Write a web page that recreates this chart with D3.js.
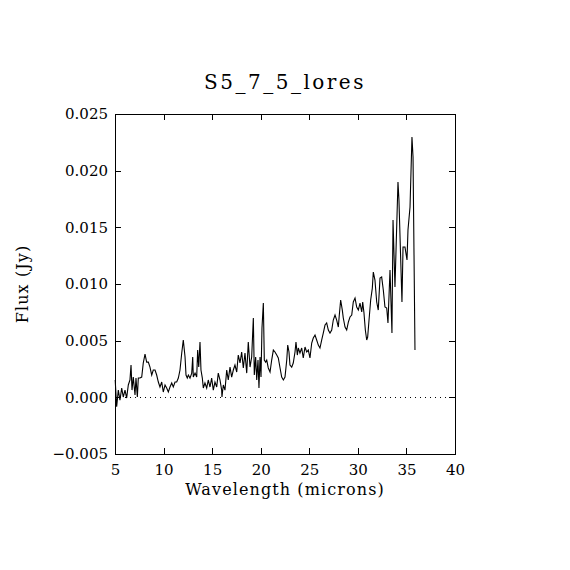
<!DOCTYPE html>
<html>
<head>
<meta charset="utf-8">
<script src="https://cdn.jsdelivr.net/npm/d3@7"></script>
<style>
  body { margin: 0; background: #fff; }
  text { font-family: "DejaVu Serif", serif; fill: #000; }
</style>
</head>
<body>
<script>
var width = 570,
  height = 570;

var title = "S5_7_5_lores";
var xLabel = "Wavelength (microns)";
var yLabel = "Flux (Jy)";
var xTicks = [5, 10, 15, 20, 25, 30, 35, 40];
var yTicks = [-0.005, 0, 0.005, 0.010, 0.015, 0.020, 0.025];

// wavelength (microns)
var wave = [5.02,5.17,5.34,5.51,5.69,5.85,6.03,6.20,6.37,6.54,6.65,6.75,6.88,7.06,7.16,7.30,7.40,7.57,7.75,7.91,
  8.09,8.26,8.43,8.60,8.78,8.94,9.12,9.29,9.46,9.63,9.81,9.97,10.15,10.32,10.49,10.66,10.84,11.00,11.18,11.35,
  11.52,11.69,11.87,12.03,12.21,12.31,12.44,12.55,12.72,12.90,13.00,13.06,13.24,13.41,13.51,13.62,13.75,13.85,13.99,14.09,
  14.26,14.44,14.60,14.78,14.95,15.12,15.29,15.47,15.63,15.81,15.98,16.01,16.15,16.32,16.50,16.66,16.84,17.01,17.18,17.35,
  17.53,17.69,17.87,18.04,18.21,18.38,18.56,18.72,18.90,19.07,19.24,19.34,19.48,19.59,19.72,19.82,19.93,20.03,20.13,20.27,
  20.37,20.51,20.62,20.78,20.96,21.13,21.30,21.47,21.65,21.81,21.99,22.16,22.33,22.50,22.68,22.78,22.91,23.01,23.19,23.35,
  23.53,23.63,23.77,23.87,24.04,24.22,24.38,24.56,24.73,24.90,25.07,25.25,25.41,25.59,25.76,25.93,26.10,26.28,26.44,26.62,
  26.79,26.96,27.13,27.31,27.47,27.65,27.82,27.99,28.09,28.23,28.40,28.50,28.68,28.85,29.02,29.19,29.37,29.53,29.71,29.88,
  30.05,30.22,30.40,30.50,30.63,30.77,30.91,31.01,31.15,31.32,31.49,31.59,31.76,31.94,32.10,32.28,32.45,32.62,32.79,32.97,
  33.10,33.31,33.51,33.62,33.82,34.13,34.23,34.54,34.65,34.85,35.06,35.16,35.37,35.57,35.68,35.88];

// flux (Jy)
var flux = [0.00153,-0.00083,0.00064,-0.00024,0.00082,0.00003,0.00064,-0.00006,0.00109,0.00153,0.00285,0.00064,0.00179,0.00020,0.00170,0.00003,0.00170,0.00170,0.00179,0.00303,
  0.00382,0.00311,0.00311,0.00267,0.00197,0.00241,0.00241,0.00197,0.00135,0.00091,0.00135,0.00047,0.00109,0.00082,0.00047,0.00091,0.00126,0.00091,0.00135,0.00135,
  0.00170,0.00241,0.00391,0.00506,0.00356,0.00197,0.00170,0.00197,0.00170,0.00214,0.00356,0.00179,0.00214,0.00179,0.00417,0.00267,0.00488,0.00241,0.00170,0.00082,
  0.00126,0.00082,0.00153,0.00091,0.00170,0.00064,0.00135,0.00091,0.00214,0.00153,0.00064,0.00003,0.00109,0.00064,0.00241,0.00153,0.00267,0.00179,0.00241,0.00285,
  0.00223,0.00373,0.00303,0.00400,0.00259,0.00391,0.00214,0.00488,0.00267,0.00356,0.00700,0.00197,0.00356,0.00153,0.00329,0.00082,0.00356,0.00179,0.00612,0.00832,
  0.00329,0.00311,0.00329,0.00259,0.00223,0.00329,0.00417,0.00400,0.00373,0.00347,0.00259,0.00179,0.00153,0.00179,0.00329,0.00461,0.00400,0.00285,0.00267,0.00303,
  0.00400,0.00488,0.00373,0.00435,0.00391,0.00435,0.00347,0.00444,0.00400,0.00417,0.00347,0.00479,0.00523,0.00550,0.00506,0.00461,0.00435,0.00506,0.00567,0.00638,
  0.00656,0.00594,0.00567,0.00594,0.00682,0.00726,0.00682,0.00620,0.00726,0.00859,0.00770,0.00700,0.00620,0.00594,0.00664,0.00709,0.00726,0.00841,0.00876,0.00797,
  0.00770,0.00832,0.00753,0.00841,0.00744,0.00594,0.00506,0.00532,0.00682,0.00859,0.00964,0.01106,0.01035,0.00841,0.00770,0.01053,0.01062,0.00947,0.00797,0.00788,
  0.00656,0.01123,0.00567,0.01564,0.00973,0.01900,0.01741,0.00841,0.01326,0.01326,0.01212,0.01476,0.01679,0.02297,0.02120,0.00417];

var data = wave.map(function(w, i) { return {w: w, f: flux[i]}; });

var margin = {left: 115, right: 115, top: 114, bottom: 116};

var svg = d3.select("body").append("svg")
  .attr("width", width)
  .attr("height", height);

var x = d3.scaleLinear()
  .domain([5, 40])
  .range([margin.left, width - margin.right]);

var y = d3.scaleLinear()
  .domain([-0.005, 0.025])
  .range([height - margin.bottom, margin.top]);

var tickLen = 6;

// zero reference line
svg.append("line")
  .attr("x1", x(5))
  .attr("x2", x(40))
  .attr("y1", Math.round(y(0)) + 0.5)
  .attr("y2", Math.round(y(0)) + 0.5)
  .attr("stroke", "#000")
  .attr("stroke-width", 1)
  .attr("stroke-dasharray", "1,4");

// spectrum
var line = d3.line()
  .x(function(d) { return x(d.w); })
  .y(function(d) { return y(d.f); });

svg.append("path")
  .datum(data)
  .attr("d", line)
  .attr("fill", "none")
  .attr("stroke", "#000")
  .attr("stroke-width", 1.1);

// frame
svg.append("rect")
  .attr("x", x(5) + 0.5)
  .attr("y", y(0.025) + 0.5)
  .attr("width", x(40) - x(5))
  .attr("height", y(-0.005) - y(0.025))
  .attr("fill", "none")
  .attr("stroke", "#000")
  .attr("shape-rendering", "crispEdges");

// inward ticks on all four sides
var axisB = d3.axisBottom(x).tickValues(xTicks).tickSizeInner(-tickLen).tickSizeOuter(0).tickPadding(10);
var axisT = d3.axisTop(x).tickValues(xTicks).tickSizeInner(-tickLen).tickSizeOuter(0).tickFormat("");
var axisL = d3.axisLeft(y).tickValues(yTicks).tickSizeInner(-tickLen).tickSizeOuter(0).tickPadding(7).tickFormat(d3.format(".3f"));
var axisR = d3.axisRight(y).tickValues(yTicks).tickSizeInner(-tickLen).tickSizeOuter(0).tickFormat("");

function styleAxis(g) {
  g.select(".domain").remove();
  g.selectAll("line").attr("stroke", "#000").attr("shape-rendering", "crispEdges");
  g.selectAll("text").attr("font-family", "DejaVu Serif").attr("font-size", 15).attr("fill", "#000");
}

svg.append("g").attr("transform", "translate(0," + y(-0.005) + ")").call(axisB).call(styleAxis);
svg.append("g").attr("transform", "translate(0," + y(0.025) + ")").call(axisT).call(styleAxis);
svg.append("g").attr("transform", "translate(" + x(5) + ",0)").call(axisL).call(styleAxis);
svg.append("g").attr("transform", "translate(" + x(40) + ",0)").call(axisR).call(styleAxis);

// titles
svg.append("text")
  .attr("x", (x(5) + x(40)) / 2)
  .attr("y", 89)
  .attr("text-anchor", "middle")
  .attr("font-size", 20)
  .attr("letter-spacing", 2.5)
  .text(title);

svg.append("text")
  .attr("x", (x(5) + x(40)) / 2)
  .attr("y", 495)
  .attr("text-anchor", "middle")
  .attr("font-size", 16)
  .attr("letter-spacing", 1.1)
  .text(xLabel);

svg.append("text")
  .attr("transform", "translate(28," + (y(0.025) + y(-0.005)) / 2 + ") rotate(-90)")
  .attr("text-anchor", "middle")
  .attr("font-size", 16)
  .attr("letter-spacing", 1.1)
  .text(yLabel);
</script>
</body>
</html>
